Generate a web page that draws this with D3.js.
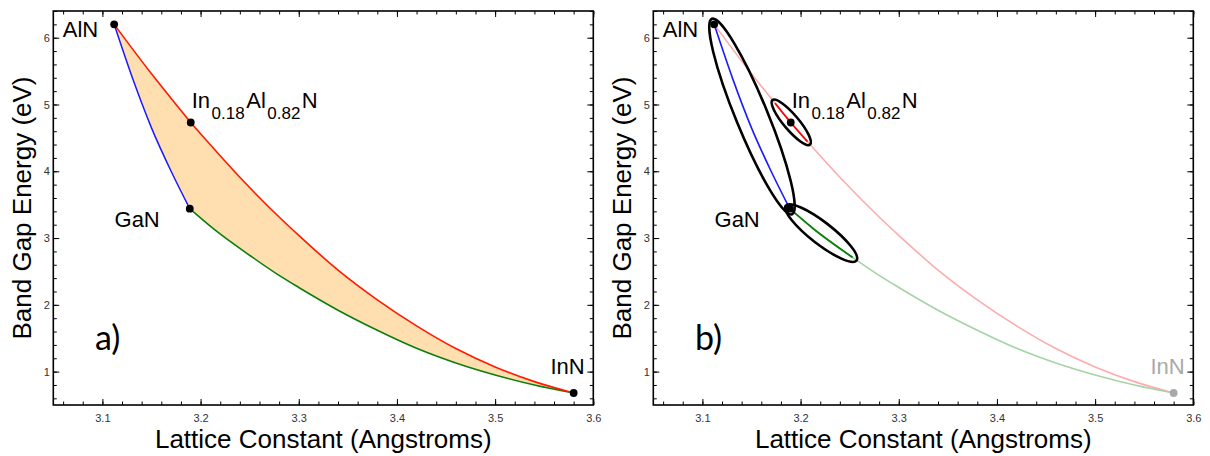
<!DOCTYPE html>
<html><head><meta charset="utf-8">
<script src="https://cdn.jsdelivr.net/npm/d3@7"></script>
<style>
body{margin:0;background:#fff;}
text{font-family:"Liberation Sans",Arial,Helvetica,sans-serif;}
</style></head>
<body><svg id="c" width="1210" height="456"></svg>
<script>
// ---- data ----
const xMajorTicks = [3.1, 3.2, 3.3, 3.4, 3.5, 3.6];
const yMajorTicks = [1, 2, 3, 4, 5, 6];
const xTickLabels = ["3.1", "3.2", "3.3", "3.4", "3.5", "3.6"];
const yTickLabels = ["1", "2", "3", "4", "5", "6"];

// AlN–InN (InAlN) curve
const redA = [3.112, 3.150, 3.174, 3.190, 3.207, 3.240, 3.280, 3.300, 3.340, 3.380, 3.420, 3.460, 3.500, 3.540, 3.580];
const redE = [6.20, 5.46, 5.02, 4.73, 4.445, 3.91, 3.315, 3.04, 2.52, 2.075, 1.685, 1.345, 1.07, 0.85, 0.68];
// GaN–InN (InGaN) curve
const greenA = [3.189, 3.213, 3.253, 3.280, 3.300, 3.340, 3.380, 3.420, 3.460, 3.500, 3.540, 3.580];
const greenE = [3.44, 3.14, 2.71, 2.44, 2.26, 1.92, 1.62, 1.35, 1.13, 0.95, 0.80, 0.68];
// AlN–GaN (AlGaN) curve
const blueA = [3.112, 3.131, 3.150, 3.170, 3.189];
const blueE = [6.20, 5.38, 4.65, 4.00, 3.44];

// labelled compounds
const ptNames = ["AlN", "GaN", "InN", "InAlN"];
const ptA = [3.112, 3.189, 3.580, 3.190];
const ptE = [6.20, 3.44, 0.68, 4.73];

// highlighted ranges in panel b (lattice constant limits)
const redHighlight = [3.174, 3.207];
const greenHighlight = [3.189, 3.253];
const blueHighlight = [3.112, 3.189];

const panelLabels = ["a)", "b)"];
const xTitle = "Lattice Constant (Angstroms)";
const yTitle = "Band Gap Energy (eV)";

// ---- drawing ----
const svg = d3.select("#c");
const L = 53.3, R = 593.3, T = 11, B = 405;
const x = d3.scaleLinear().domain([3.05, 3.6]).range([L, R]);
const y = d3.scaleLinear().domain([0.5, 6.4]).range([B, T]);
const zip = (A, E) => A.map((a, i) => [a, E[i]]);
const red = zip(redA, redE), green = zip(greenA, greenE), blue = zip(blueA, blueE);
const line = d3.line().x(d => x(d[0])).y(d => y(d[1])).curve(d3.curveMonotoneX);
const within = (pts, r) => pts.filter(d => d[0] >= r[0] - 1e-9 && d[0] <= r[1] + 1e-9);

const xMinor = d3.range(3.06, 3.6001, 0.02).map(v => +v.toFixed(2));
const yMinor = d3.range(0.6, 6.4001, 0.2).map(v => +v.toFixed(1));

function frame(g) {
  const fmtX = d => xTickLabels[xMajorTicks.indexOf(d)];
  const fmtY = d => yTickLabels[yMajorTicks.indexOf(d)];
  const ax = (gen, tr) => {
    const a = g.append("g").attr("transform", tr).call(gen);
    a.select(".domain").remove();
    a.selectAll("line").attr("stroke", "#000").attr("stroke-width", 1);
    a.selectAll("text").attr("fill", "#333").style("font-size", "11px")
      .style("font-family", '"Liberation Sans",Arial,sans-serif');
    return a;
  };
  ax(d3.axisBottom(x).tickValues(xMinor).tickSize(-3.5).tickFormat(""), `translate(0,${B})`);
  ax(d3.axisBottom(x).tickValues(xMajorTicks).tickSize(-6).tickPadding(8.7).tickFormat(fmtX), `translate(0,${B})`);
  ax(d3.axisTop(x).tickValues(xMinor).tickSize(-3.5).tickFormat(""), `translate(0,${T})`);
  ax(d3.axisTop(x).tickValues(xMajorTicks).tickSize(-6).tickFormat(""), `translate(0,${T})`);
  ax(d3.axisLeft(y).tickValues(yMinor).tickSize(-3.5).tickFormat(""), `translate(${L},0)`);
  ax(d3.axisLeft(y).tickValues(yMajorTicks).tickSize(-6).tickPadding(3.5).tickFormat(fmtY), `translate(${L},0)`);
  ax(d3.axisRight(y).tickValues(yMinor).tickSize(-3.5).tickFormat(""), `translate(${R},0)`);
  ax(d3.axisRight(y).tickValues(yMajorTicks).tickSize(-6).tickFormat(""), `translate(${R},0)`);
  g.append("rect").attr("x", L).attr("y", T).attr("width", R - L).attr("height", B - T)
    .attr("fill", "none").attr("stroke", "#000").attr("stroke-width", 1.6);
  g.append("text").attr("x", (L + R) / 2).attr("y", 448).attr("text-anchor", "middle")
    .style("font-size", "26px").text(xTitle);
  g.append("text").attr("transform", `translate(31,${(T + B) / 2}) rotate(-90)`).attr("text-anchor", "middle")
    .style("font-size", "26px").text(yTitle);
}

function labels(g, grayInN) {
  const P = i => [x(ptA[i]), y(ptE[i])];
  const fs = "22px", sub = "17px";
  let p = P(0);
  g.append("text").attr("x", p[0] - 16).attr("y", p[1] + 12.5).attr("text-anchor", "end").style("font-size", fs).text("AlN");
  p = P(1);
  g.append("text").attr("x", p[0] - 30).attr("y", p[1] + 18).attr("text-anchor", "end").style("font-size", fs).text("GaN");
  p = P(2);
  g.append("text").attr("x", p[0] + 11).attr("y", p[1] - 19).attr("text-anchor", "end").style("font-size", fs)
    .attr("fill", grayInN ? "#a9a9a9" : "#000").text("InN");
  p = P(3);
  const t = g.append("text").attr("x", p[0] + 1).attr("y", p[1] - 15).style("font-size", fs);
  t.append("tspan").text("In");
  t.append("tspan").attr("dx", 1.5).attr("dy", 11).style("font-size", sub).text("0.18");
  t.append("tspan").attr("dx", 1.5).attr("dy", -11).text("Al");
  t.append("tspan").attr("dx", 1.5).attr("dy", 11).style("font-size", sub).text("0.82");
  t.append("tspan").attr("dx", 1.5).attr("dy", -11).text("N");
}

function dots(g, grayInN) {
  g.selectAll("circle.pt").data(d3.range(ptA.length)).join("circle")
    .attr("class", "pt").attr("cx", i => x(ptA[i])).attr("cy", i => y(ptE[i])).attr("r", 3.9)
    .attr("fill", i => (grayInN && ptNames[i] === "InN") ? "#a9a9a9" : "#000");
}

function panelLabel(g, s) {
  g.append("text").attr("x", 95).attr("y", 350).style("font-size", "34px")
    .style("font-family", "Lato, 'Open Sans', sans-serif").text(s);
}

// Panel a
const ga = svg.append("g");
const fillPath = line(red) + line(green.slice().reverse()).replace(/^M/, "L") + line(blue.slice().reverse()).replace(/^M/, "L") + "Z";
ga.append("path").attr("d", fillPath).attr("fill", "#ffdeb0").attr("stroke", "none");
ga.append("path").attr("d", line(blue)).attr("fill", "none").attr("stroke", "#1a1aff").attr("stroke-width", 1.5);
ga.append("path").attr("d", line(green)).attr("fill", "none").attr("stroke", "#0a800a").attr("stroke-width", 1.6);
ga.append("path").attr("d", line(red)).attr("fill", "none").attr("stroke", "#ff1a00").attr("stroke-width", 1.6);
frame(ga);
dots(ga, false);
labels(ga, false);
panelLabel(ga, panelLabels[0]);

// Panel b
const gb = svg.append("g").attr("transform", "translate(600,0)");
gb.append("path").attr("d", line(red)).attr("fill", "none").attr("stroke", "#ffabab").attr("stroke-width", 1.6);
gb.append("path").attr("d", line(green)).attr("fill", "none").attr("stroke", "#a6d3a6").attr("stroke-width", 1.6);
gb.append("path").attr("d", line(within(blue, blueHighlight))).attr("fill", "none").attr("stroke", "#1a1aff").attr("stroke-width", 1.6);
gb.append("path").attr("d", line(within(red, redHighlight))).attr("fill", "none").attr("stroke", "#ff0000").attr("stroke-width", 1.8);
gb.append("path").attr("d", line(within(green, greenHighlight))).attr("fill", "none").attr("stroke", "#0a800a").attr("stroke-width", 1.8);
// ellipses around highlighted segments
const ellipseStyle = [{pts: within(blue, blueHighlight), pad: 6, ry: 16},
                      {pts: within(red, redHighlight), pad: 4, ry: 7.5},
                      {pts: within(green, greenHighlight), pad: 5, ry: 11}];
ellipseStyle.forEach(e => {
  const p1 = [x(e.pts[0][0]), y(e.pts[0][1])], p2 = [x(e.pts[e.pts.length - 1][0]), y(e.pts[e.pts.length - 1][1])];
  const cx = (p1[0] + p2[0]) / 2, cy = (p1[1] + p2[1]) / 2;
  const len = Math.hypot(p2[0] - p1[0], p2[1] - p1[1]);
  const ang = Math.atan2(p2[1] - p1[1], p2[0] - p1[0]) * 180 / Math.PI;
  gb.append("ellipse").attr("cx", 0).attr("cy", 0).attr("rx", len / 2 + e.pad).attr("ry", e.ry)
    .attr("transform", `translate(${cx},${cy}) rotate(${ang})`)
    .attr("fill", "none").attr("stroke", "#000").attr("stroke-width", 2.6);
});
frame(gb);
dots(gb, true);
labels(gb, true);
panelLabel(gb, panelLabels[1]);
</script></body></html>
